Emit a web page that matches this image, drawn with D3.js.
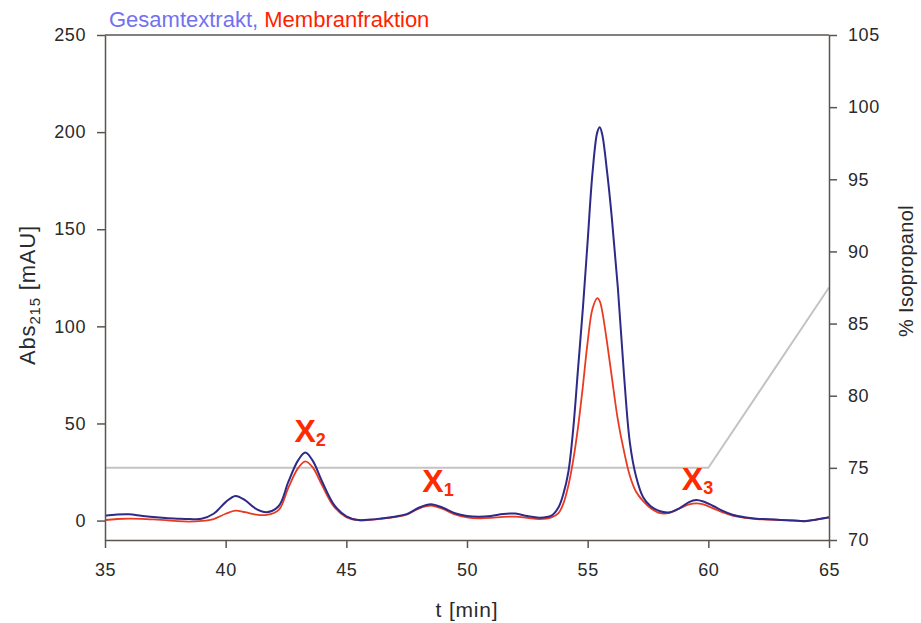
<!DOCTYPE html>
<meta charset="utf-8">
<style>
body { margin: 0; background: #fff; }
svg { display: block; font-family: "Liberation Sans", Arial, sans-serif; }
.axis path, .axis line { stroke: #5a5550; stroke-width: 1.5; }
.axis text { fill: #2a2a2a; font-size: 18px; letter-spacing: 0.6px; }
.title { font-size: 22px; }
.axis-label { font-size: 21px; fill: #2a2a2a; letter-spacing: 0.8px; }
.peak { fill: #ff2a00; font-weight: bold; }
</style>
<svg width="921" height="623"></svg>
<script src="https://cdn.jsdelivr.net/npm/d3@7"></script>
<script>
// retention times (min), shared by both traces
const times = [35, 35.5, 36, 36.5, 37, 37.5, 38, 38.5, 39, 39.5, 40, 40.4, 40.8, 41.2, 41.7,
  42.2, 42.6, 43, 43.3, 43.6, 44, 44.5, 45, 45.5, 46, 46.5, 47, 47.5, 48, 48.5, 49, 49.5,
  50, 50.5, 51, 51.5, 52, 52.5, 53, 53.5, 53.8, 54, 54.2, 54.4, 54.6, 54.8, 55, 55.2, 55.4,
  55.5, 55.6, 55.8, 56, 56.25, 56.5, 56.75, 57, 57.3, 57.6, 58, 58.4, 58.8, 59.2, 59.5,
  59.8, 60.2, 60.6, 61, 61.5, 62, 62.5, 63, 63.5, 64, 64.5, 65]

// Abs215 [mAU], Gesamtextrakt
const gesamt = [2.5, 3.1, 3.2, 2.5, 1.8, 1.3, 1.0, 0.8, 0.9, 3.5, 9.5, 12.7, 10.5, 6.5, 4.3,
  7.5, 20, 31, 35, 31, 20, 8, 2.2, 0.3, 0.5, 1.2, 2.0, 3.3, 6.6, 8.4, 6.6, 3.8,
  2.4, 2.0, 2.4, 3.4, 3.6, 2.3, 1.5, 2.5, 7, 14, 25, 47, 78, 109, 144, 179, 200,
  202.5, 199, 180, 156, 120, 76, 40, 23, 12, 7.5, 4.8, 4.3, 6.3, 9.5, 10.6,
  9.8, 7.5, 5, 3, 1.7, 1.0, 0.7, 0.3, 0.0, -0.3, 0.6, 1.7]

// Abs215 [mAU], Membranfraktion
const membran = [0.3, 0.8, 1.0, 0.9, 0.6, 0.2, -0.3, -0.5, -0.2, 0.8, 3.5, 5.1, 4.3, 3.2, 2.9,
  5.5, 17, 27, 30.5, 27.5, 18, 7, 1.8, 0.2, 0.4, 1.0, 1.8, 3.0, 6.2, 7.7, 6.0, 3.2,
  1.7, 1.2, 1.4, 1.9, 2.0, 1.4, 0.8, 1.6, 4, 9, 18, 31, 48, 69, 92, 109, 114.5,
  113, 108, 92, 74, 52, 36, 23, 15, 10, 6.5, 3.8, 4.0, 6.2, 8.3, 8.9,
  8.3, 6.3, 4.2, 2.5, 1.4, 0.8, 0.5, 0.3, 0.1, -0.2, 0.6, 1.7]

// gradient, % Isopropanol
const gradTimes = [35, 60, 65]
const gradValues = [75, 75, 87.5]

// peak labels
const peakLabels = [
  {t: 43.5, v: 40.5, name: "X", sub: "2"},
  {t: 48.8, v: 14.7, name: "X", sub: "1"},
  {t: 59.55, v: 15.8, name: "X", sub: "3"}
]

const xTicks = [35, 40, 45, 50, 55, 60, 65]
const yTicks = [0, 50, 100, 150, 200, 250]
const y2Ticks = [70, 75, 80, 85, 90, 95, 100, 105]

var svg = d3.select("svg"),
    margin = {top: 35, right: 92, bottom: 83, left: 105},
    width = +svg.attr("width") - margin.left - margin.right,
    height = +svg.attr("height") - margin.top - margin.bottom,
    g = svg.append("g").attr("transform", "translate(" + margin.left + "," + margin.top + ")");

var x = d3.scaleLinear().domain([35, 65]).range([0, width])
var y = d3.scaleLinear().domain([-10, 250]).range([height, 0])
var y2 = d3.scaleLinear().domain([70, 105]).range([height, 0])

// gradient line (behind the traces)
const gradLine = d3.line()
    .x((d, i) => x(gradTimes[i]))
    .y(d => y2(d))

g.append("path")
    .datum(gradValues)
    .attr("fill", "none")
    .attr("stroke", "#c4c4c4")
    .attr("stroke-width", 2)
    .attr("d", gradLine)

const trace = d3.line()
    .x((d, i) => x(times[i]))
    .y(d => y(d))
    .curve(d3.curveCatmullRom.alpha(0.5))

g.append("path")
    .datum(membran)
    .attr("fill", "none")
    .attr("stroke", "#ea3a22")
    .attr("stroke-width", 1.8)
    .attr("d", trace)

g.append("path")
    .datum(gesamt)
    .attr("fill", "none")
    .attr("stroke", "#2e2a88")
    .attr("stroke-width", 2)
    .attr("d", trace)

// axes
g.append("g")
    .attr("class", "axis")
    .call(d3.axisLeft(y).tickValues(yTicks).tickSize(8).tickSizeOuter(0).tickPadding(11))

g.append("g")
    .attr("class", "axis")
    .attr("transform", `translate(0, ${height})`)
    .call(d3.axisBottom(x).tickValues(xTicks).tickSize(8).tickSizeOuter(0).tickPadding(15))

g.append("g")
    .attr("class", "axis")
    .attr("transform", `translate(${width}, 0)`)
    .call(d3.axisRight(y2).tickValues(y2Ticks).tickSize(8).tickSizeOuter(0).tickPadding(11))

// top frame
g.append("line")
    .attr("x1", x(35)).attr("x2", x(65))
    .attr("y1", y(250)).attr("y2", y(250))
    .attr("stroke", "#5a5550")
    .attr("stroke-width", 1.5)

// peak labels
const pl = g.selectAll(".peak")
    .data(peakLabels)
    .enter().append("text")
    .attr("class", "peak")
    .attr("x", d => x(d.t))
    .attr("y", d => y(d.v))
    .attr("text-anchor", "middle")

pl.append("tspan").attr("font-size", 32).text(d => d.name)
pl.append("tspan").attr("font-size", 18).attr("dy", 4).text(d => d.sub)

// title
const title = svg.append("text")
    .attr("class", "title")
    .attr("x", 109)
    .attr("y", 27)
title.append("tspan").attr("fill", "#7272f0").text("Gesamtextrakt, ")
title.append("tspan").attr("fill", "#ff2200").text("Membranfraktion")

// axis titles
svg.append("text")
    .attr("class", "axis-label")
    .attr("x", margin.left + width / 2)
    .attr("y", 617)
    .attr("text-anchor", "middle")
    .text("t [min]")

const yl = svg.append("text")
    .attr("class", "axis-label")
    .attr("transform", "translate(35, 295) rotate(-90)")
    .attr("text-anchor", "middle")
    .style("font-size", "22px")
yl.append("tspan").text("Abs")
yl.append("tspan").attr("font-size", 15).attr("dy", 5).text("215")
yl.append("tspan").attr("dy", -5).text(" [mAU]")

svg.append("text")
    .attr("class", "axis-label")
    .attr("transform", "translate(913, 271) rotate(-90)")
    .attr("text-anchor", "middle")
    .style("font-size", "20px")
    .style("letter-spacing", "0.3px")
    .text("% Isopropanol")
</script>
